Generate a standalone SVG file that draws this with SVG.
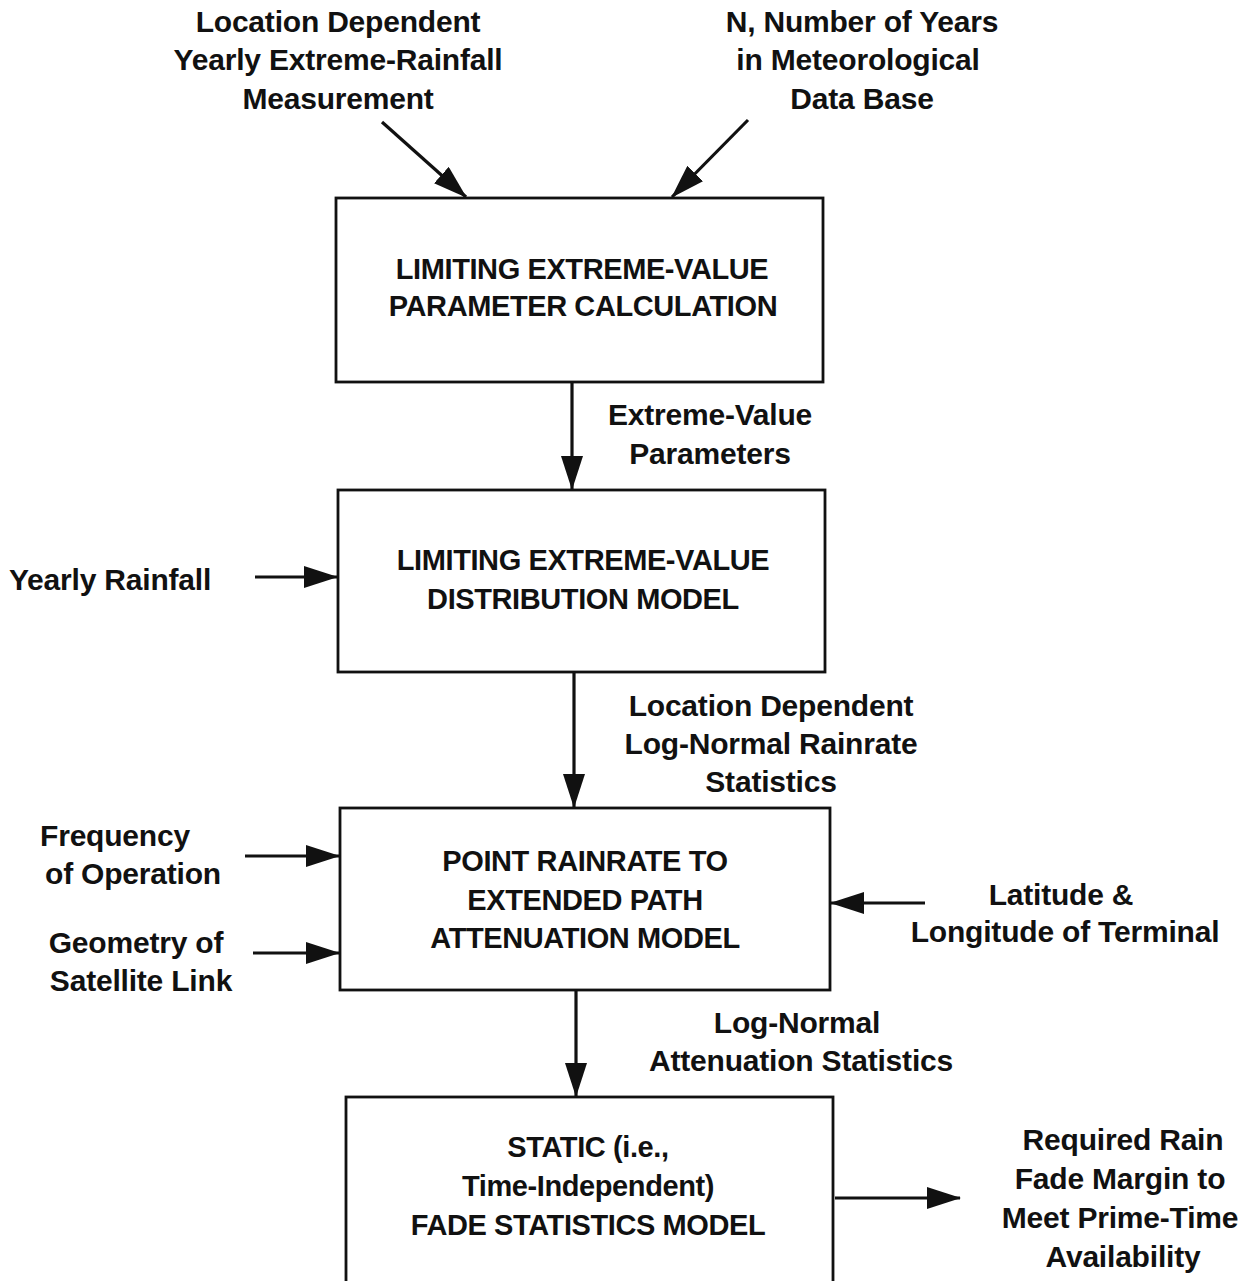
<svg xmlns="http://www.w3.org/2000/svg" width="1254" height="1281" viewBox="0 0 1254 1281">
  <style>
    .lbl { font-family: "Liberation Sans", Arial, Helvetica, sans-serif; font-weight: bold; font-size: 30px; fill: #111; text-anchor: middle; letter-spacing: -0.2px; }
    .box text { font-family: "Liberation Sans", Arial, Helvetica, sans-serif; font-weight: bold; font-size: 29px; fill: #111; text-anchor: middle; letter-spacing: -0.4px; }
    .box rect { fill: #fff; stroke: #111; stroke-width: 2.8; }
    .conn line { stroke: #111; stroke-width: 3.2; marker-end: url(#head); }
  </style>
  <defs>
    <marker id="head" markerUnits="userSpaceOnUse" markerWidth="34" markerHeight="22" viewBox="0 0 34 22" refX="33" refY="11" orient="auto">
      <path d="M0,0 L34,11 L0,22 Z" fill="#111"/>
    </marker>
  </defs>
  <rect width="1254" height="1281" fill="#fff"/>

  <!-- input / output labels -->
  <g id="in-rainfall-measurement">
    <text class="lbl" x="338" y="32">Location Dependent</text>
    <text class="lbl" x="338" y="70">Yearly Extreme-Rainfall</text>
    <text class="lbl" x="338" y="109">Measurement</text>
  </g>
  <g id="in-years">
    <text class="lbl" x="862" y="32">N, Number of Years</text>
    <text class="lbl" x="858" y="70">in Meteorological</text>
    <text class="lbl" x="862" y="109">Data Base</text>
  </g>
  <g id="lbl-ev-params">
    <text class="lbl" x="710" y="425">Extreme-Value</text>
    <text class="lbl" x="710" y="464">Parameters</text>
  </g>
  <g id="in-yearly-rainfall">
    <text class="lbl" x="110" y="590">Yearly Rainfall</text>
  </g>
  <g id="lbl-rainrate-stats">
    <text class="lbl" x="771" y="716">Location Dependent</text>
    <text class="lbl" x="771" y="754">Log-Normal Rainrate</text>
    <text class="lbl" x="771" y="792">Statistics</text>
  </g>
  <g id="in-frequency">
    <text class="lbl" x="115" y="846">Frequency</text>
    <text class="lbl" x="133" y="884">of Operation</text>
  </g>
  <g id="in-geometry">
    <text class="lbl" x="136" y="953">Geometry of</text>
    <text class="lbl" x="141" y="991">Satellite Link</text>
  </g>
  <g id="in-lat-long">
    <text class="lbl" x="1061" y="905">Latitude &amp;</text>
    <text class="lbl" x="1065" y="942">Longitude of Terminal</text>
  </g>
  <g id="lbl-atten-stats">
    <text class="lbl" x="797" y="1033">Log-Normal</text>
    <text class="lbl" x="801" y="1071">Attenuation Statistics</text>
  </g>
  <g id="out-fade-margin">
    <text class="lbl" x="1123" y="1150">Required Rain</text>
    <text class="lbl" x="1120" y="1189">Fade Margin to</text>
    <text class="lbl" x="1120" y="1228">Meet Prime-Time</text>
    <text class="lbl" x="1123" y="1267">Availability</text>
  </g>

  <!-- processing blocks -->
  <g id="box-param-calc" class="box">
    <rect x="336" y="198" width="487" height="184"/>
    <text x="582" y="279">LIMITING EXTREME-VALUE</text>
    <text x="583" y="316">PARAMETER CALCULATION</text>
  </g>
  <g id="box-dist-model" class="box">
    <rect x="338" y="490" width="487" height="182"/>
    <text x="583" y="570">LIMITING EXTREME-VALUE</text>
    <text x="583" y="609">DISTRIBUTION MODEL</text>
  </g>
  <g id="box-path-atten" class="box">
    <rect x="340" y="808" width="490" height="182"/>
    <text x="585" y="871">POINT RAINRATE TO</text>
    <text x="585" y="910">EXTENDED PATH</text>
    <text x="585" y="948">ATTENUATION MODEL</text>
  </g>
  <g id="box-fade-stats" class="box">
    <rect x="346" y="1097" width="487" height="200"/>
    <text x="588" y="1157">STATIC (i.e.,</text>
    <text x="588" y="1196">Time-Independent)</text>
    <text x="588" y="1235">FADE STATISTICS MODEL</text>
  </g>

  <!-- connectors -->
  <g id="connectors" class="conn">
    <line x1="382" y1="122" x2="466" y2="197"/>
    <line x1="748" y1="120" x2="672" y2="197"/>
    <line x1="572" y1="382" x2="572" y2="489"/>
    <line x1="255" y1="577" x2="337" y2="577"/>
    <line x1="574" y1="672" x2="574" y2="807"/>
    <line x1="245" y1="856" x2="339" y2="856"/>
    <line x1="253" y1="953" x2="339" y2="953"/>
    <line x1="925" y1="903" x2="831" y2="903"/>
    <line x1="576" y1="990" x2="576" y2="1096"/>
    <line x1="835" y1="1198" x2="960" y2="1198"/>
  </g>
</svg>
